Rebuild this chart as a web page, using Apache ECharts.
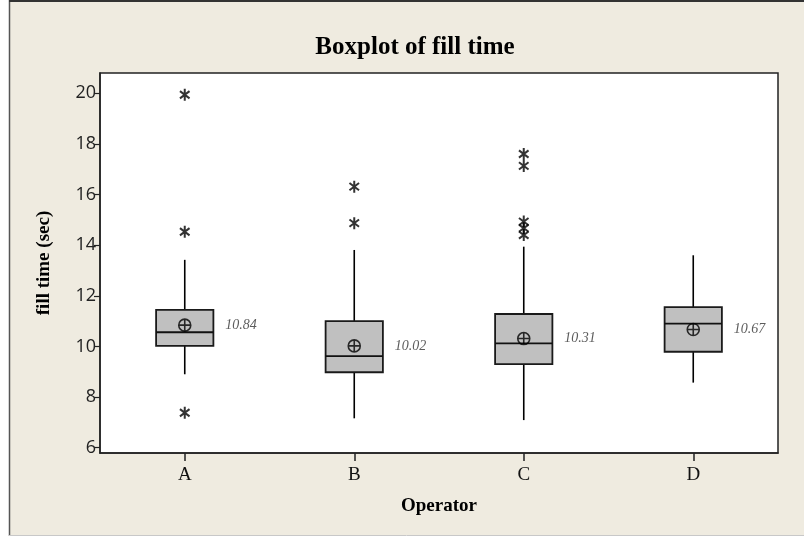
<!DOCTYPE html>
<html>
<head>
<meta charset="utf-8">
<script src="https://cdn.jsdelivr.net/npm/echarts@6/dist/echarts.min.js"></script>
<style>
html,body{margin:0;padding:0;background:#fff;}
#c{width:804px;height:536px;}
</style>
</head>
<body>
<div id="c"></div>
<script>
var categories = ['A', 'B', 'C', 'D'];
var whiskerLow  = [8.90, 7.16, 7.09, 8.57];
var q1          = [10.02, 8.98, 9.30, 9.79];
var medians     = [10.56, 9.62, 10.12, 10.90];
var q3          = [11.44, 11.00, 11.28, 11.55];
var whiskerHigh = [13.42, 13.81, 13.94, 13.60];
var means       = [10.84, 10.02, 10.31, 10.67];
var outliersA = [19.94, 14.53, 7.38];
var outliersB = [16.31, 14.87];
var outliersC = [17.60, 17.13, 14.93, 14.67, 14.40];
var outliersD = [];
var yTicks = [6, 8, 10, 12, 14, 16, 18, 20];

var outlierLists = [outliersA, outliersB, outliersC, outliersD];
var boxData = categories.map(function (c, i) {
  return [i, whiskerLow[i], q1[i], medians[i], q3[i], whiskerHigh[i]];
});
var outlierData = [];
outlierLists.forEach(function (list, i) {
  list.forEach(function (v) { outlierData.push([i, v]); });
});
var meanData = means.map(function (m, i) { return [i, m]; });

var starPath = 'path://M0,-10L0,10M-8,-6L8,6M-8,6L8,-6';
var circlePlus = 'path://M10,0A10,10 0 1,1 -10,0A10,10 0 1,1 10,0ZM-10,0L10,0M0,-10L0,10';

var chart = echarts.init(document.getElementById('c'), null, {renderer: 'canvas'});
chart.setOption({
  animation: false,
  backgroundColor: '#ffffff',
  graphic: [
    {type: 'rect', z: -10, shape: {x: 10, y: 1, width: 800, height: 534}, style: {fill: '#EFEBE0'}},
    {type: 'line', shape: {x1: 9.5, y1: 0, x2: 9.5, y2: 536}, style: {stroke: '#555', lineWidth: 1.5}},
    {type: 'line', shape: {x1: 9, y1: 1, x2: 804, y2: 1}, style: {stroke: '#333', lineWidth: 2}},
    {type: 'line', shape: {x1: 9, y1: 535.5, x2: 804, y2: 535.5}, style: {stroke: '#c8c8c8', lineWidth: 1}}
  ],
  title: {
    text: 'Boxplot of fill time',
    left: 410, textAlign: 'center', top: 30,
    textStyle: {fontFamily: 'Liberation Serif', fontWeight: 'bold', fontSize: 25, color: '#000'}
  },
  grid: {
    left: 100, right: 26, top: 73, bottom: 83,
    show: true, backgroundColor: '#ffffff', borderColor: '#222', borderWidth: 1.5
  },
  xAxis: {
    type: 'category',
    data: categories,
    name: 'Operator',
    nameLocation: 'middle',
    nameGap: 44,
    nameTextStyle: {fontFamily: 'Liberation Serif', fontWeight: 'bold', fontSize: 19, color: '#000'},
    axisLine: {show: true, lineStyle: {color: '#222', width: 1.5}},
    axisTick: {show: true, alignWithLabel: true, length: 8, lineStyle: {color: '#222', width: 1.5}},
    axisLabel: {fontFamily: 'Liberation Serif', fontSize: 19, color: '#111', margin: 13},
    splitLine: {show: false}
  },
  yAxis: {
    type: 'value',
    min: 5.79, max: 20.8,
    name: 'fill time (sec)',
    nameLocation: 'middle',
    nameGap: 46,
    nameRotate: 90,
    nameTextStyle: {fontFamily: 'Liberation Serif', fontWeight: 'bold', fontSize: 19, color: '#000'},
    axisLine: {show: true, lineStyle: {color: '#222', width: 1.5}},
    axisTick: {show: true, length: 6, customValues: yTicks, lineStyle: {color: '#222', width: 1.2}},
    axisLabel: {customValues: yTicks, fontFamily: 'Open Sans', fontSize: 18, color: '#222', margin: 4},
    splitLine: {show: false}
  },
  series: [
    {
      type: 'custom',
      data: boxData,
      encode: {x: 0, y: [1, 2, 3, 4, 5]},
      renderItem: function (params, api) {
        var x = api.value(0);
        var pMin = api.coord([x, api.value(1)]);
        var pQ1 = api.coord([x, api.value(2)]);
        var pMed = api.coord([x, api.value(3)]);
        var pQ3 = api.coord([x, api.value(4)]);
        var pMax = api.coord([x, api.value(5)]);
        var bw = api.size([1, 0])[0] * 0.338;
        var cx = pMed[0];
        return {
          type: 'group',
          children: [
            {type: 'line', shape: {x1: cx, y1: pMin[1], x2: cx, y2: pQ1[1]}, style: {stroke: '#000', lineWidth: 1.6}},
            {type: 'line', shape: {x1: cx, y1: pQ3[1], x2: cx, y2: pMax[1]}, style: {stroke: '#000', lineWidth: 1.6}},
            {type: 'rect', shape: {x: cx - bw / 2, y: pQ3[1], width: bw, height: pQ1[1] - pQ3[1]},
             style: {fill: '#C0C0C0', stroke: '#1a1a1a', lineWidth: 1.8}},
            {type: 'line', shape: {x1: cx - bw / 2, y1: pMed[1], x2: cx + bw / 2, y2: pMed[1]}, style: {stroke: '#111', lineWidth: 1.8}}
          ]
        };
      }
    },
    {
      type: 'scatter',
      data: outlierData,
      symbol: starPath,
      symbolSize: 12,
      symbolKeepAspect: true,
      itemStyle: {color: 'none', borderColor: '#000', borderWidth: 2},
      z: 5
    },
    {
      type: 'scatter',
      data: meanData,
      symbol: circlePlus,
      symbolSize: 12,
      symbolKeepAspect: true,
      itemStyle: {color: 'none', borderColor: '#000', borderWidth: 1.6},
      label: {
        show: true, position: 'right', distance: 32,
        formatter: function (p) { return p.value[1].toFixed(2); },
        fontFamily: 'Liberation Serif', fontStyle: 'italic', fontSize: 14, color: '#333'
      },
      z: 6
    }
  ]
});
</script>
</body>
</html>
